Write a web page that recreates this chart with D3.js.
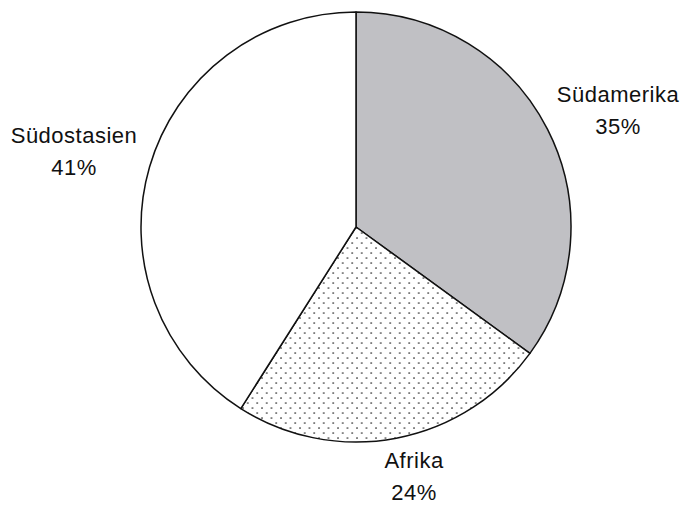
<!DOCTYPE html>
<html>
<head>
<meta charset="utf-8">
<script src="https://cdn.jsdelivr.net/npm/d3@7"></script>
<style>
  html, body { margin: 0; padding: 0; background: #fff; }
  svg text { font-family: "Liberation Sans", Arial, sans-serif; font-size: 22px; fill: #111; letter-spacing: 0.5px; }
</style>
</head>
<body>
<svg id="chart" width="685" height="506"></svg>
<script>
// Regions and their shares (percent)
const regions = ["Südamerika", "Afrika", "Südostasien"];
const shares = [35, 24, 41];
const percentLabels = ["35%", "24%", "41%"];

const svg = d3.select("#chart");
const cx = 356, cy = 227, radius = 215;

// Dotted fill for Afrika
const defs = svg.append("defs");
const dots = defs.append("pattern")
  .attr("id", "dots")
  .attr("patternUnits", "userSpaceOnUse")
  .attr("width", 9.5)
  .attr("height", 10);
dots.append("rect").attr("width", 9.5).attr("height", 10).attr("fill", "#fff");
dots.append("circle").attr("cx", 1).attr("cy", 1).attr("r", 0.85).attr("fill", "#222");
dots.append("circle").attr("cx", 5.75).attr("cy", 6).attr("r", 0.85).attr("fill", "#222");

const fills = ["#c0c0c4", "url(#dots)", "#ffffff"];

const pie = d3.pie().sort(null).value(d => d);
const arcs = pie(shares);
const arc = d3.arc().innerRadius(0).outerRadius(radius);

const g = svg.append("g").attr("transform", `translate(${cx},${cy})`);
g.selectAll("path")
  .data(arcs)
  .join("path")
  .attr("d", arc)
  .attr("fill", (d, i) => fills[i])
  .attr("stroke", "#111")
  .attr("stroke-width", 1.5)
  .attr("stroke-linejoin", "round");

// Label anchor points, outside the pie
const labelPos = [
  { x: 618, y: 102 },
  { x: 414, y: 468 },
  { x: 74, y: 143 }
];
const lineGap = 32;

const labels = svg.append("g");
regions.forEach((name, i) => {
  const t = labels.append("text")
    .attr("text-anchor", "middle")
    .attr("x", labelPos[i].x)
    .attr("y", labelPos[i].y);
  t.append("tspan").attr("x", labelPos[i].x).text(name);
  t.append("tspan").attr("x", labelPos[i].x).attr("dy", lineGap).text(percentLabels[i]);
});
</script>
</body>
</html>
